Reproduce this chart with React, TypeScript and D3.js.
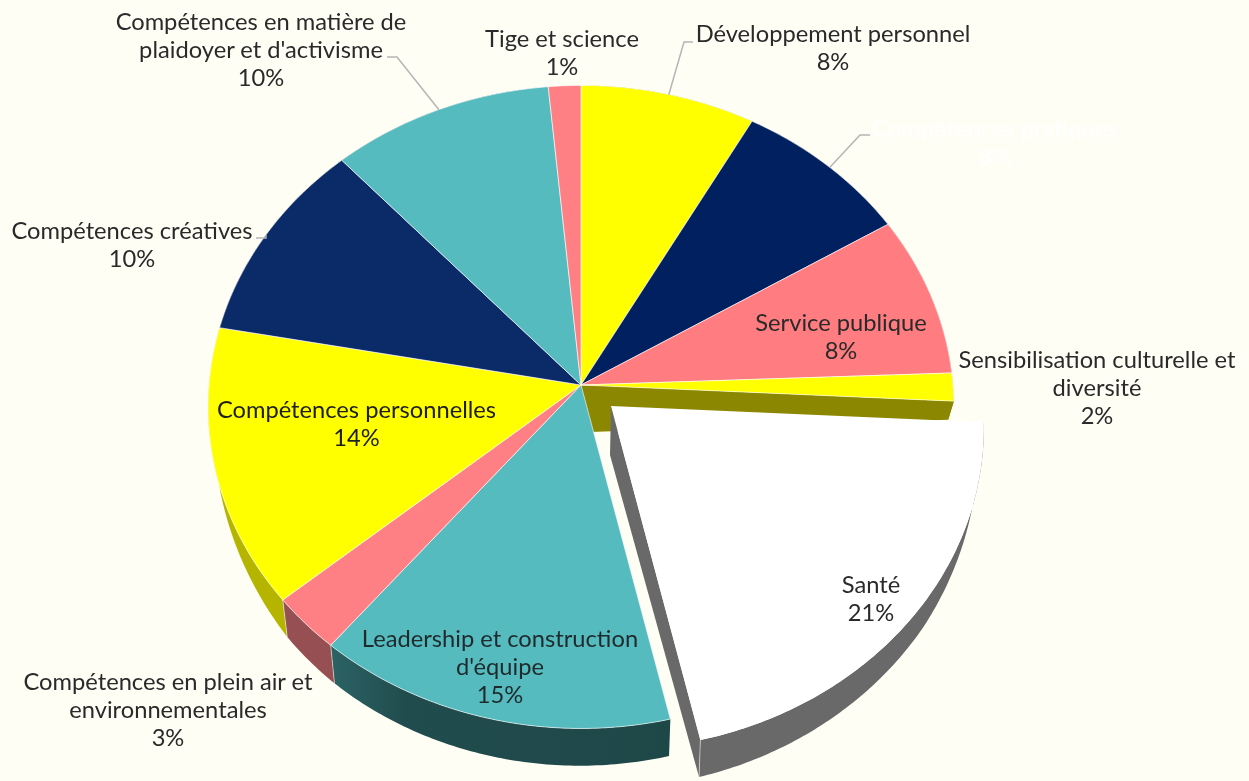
import React from "react";
import * as d3 from "d3";

const categories = [
  "Développement personnel",
  "Compétences pratiques",
  "Service publique",
  "Sensibilisation culturelle et diversité",
  "Santé",
  "Leadership et construction d'équipe",
  "Compétences en plein air et environnementales",
  "Compétences personnelles",
  "Compétences créatives",
  "Compétences en matière de plaidoyer et d'activisme",
  "Tige et science",
];
const values = [8.1, 8.2, 8.1, 1.4, 20.6, 14.6, 2.9, 14.0, 10.3, 10.3, 1.5];
const percentLabels = ["8%", "8%", "8%", "2%", "21%", "15%", "3%", "14%", "10%", "10%", "1%"];
const labelLines = [
  ["Développement personnel"],
  ["Compétences pratiques"],
  ["Service publique"],
  ["Sensibilisation culturelle et", "diversité"],
  ["Santé"],
  ["Leadership et construction", "d'équipe"],
  ["Compétences en plein air et", "environnementales"],
  ["Compétences personnelles"],
  ["Compétences créatives"],
  ["Compétences en matière de", "plaidoyer et d'activisme"],
  ["Tige et science"],
];
const topColors = ["#FFFF00", "#002060", "#FF7C80", "#FFFF00", "#FFFFFF", "#55BBBF", "#FF8084", "#FFFF00", "#0A2A68", "#55BBBF", "#FF8084"];
const wallColors = ["#8C8C00", "#001030", "#803E40", "#8C8700", "#696969", "url(#wallTeal)", "#964F52", "#B5B500", "#051534", "#2A5E60", "#803E40"];
const labelColors = ["#2A2A2A", "#FFFFFF", "#2A2A2A", "#2A2A2A", "#2A2A2A", "#1E2A2C", "#2A2A2A", "#1E1E1E", "#2A2A2A", "#2A2A2A", "#2A2A2A"];
// label layout: centre x, y of the first line's middle
const labelPos: [number, number][] = [
  [833, 34.5], [995, 130], [841, 323.5], [1097, 360.5], [871, 585.5], [500, 639.5], [168, 682.5], [356.5, 410.5], [132, 231.5], [261, 22.5], [562, 39.5],
];
// leader lines: slice index, elbow and end of line beside the label
const leaders: { i: number; frac: number; elbow: [number, number]; end: [number, number] }[] = [
  { i: 0, frac: 0.5, elbow: [684, 42], end: [693, 42] },
  { i: 1, frac: 0.52, elbow: [860, 135], end: [870, 135] },
  { i: 8, frac: 0.5, elbow: [266, 238], end: [256, 238] },
  { i: 9, frac: 0.5, elbow: [397, 57], end: [387, 57] },
];

const W = 1249;
const H = 781;
const CX = 581;
const CY = 385;
const RX = 372;
const RY = 320;
const PERSP = 0.0683;
const EXPLODED = 4;
const EXPLODE: [number, number] = [30, 21];
const BOTTOM_CENTER: [number, number] = [590, 432];
const EXPLODED_BOTTOM_CENTER: [number, number] = [580, 434];
const SHRINK = 0.985;

const DEG = Math.PI / 180;
const depth = d3.scaleLinear()
  .domain([0, 90, 100, 125, 167, 220, 230, 255, 280, 360].map((d) => d * DEG))
  .range([0, 18, 20, 30, 37, 38, 37, 24, 0, 0]);

const project = (a: number): [number, number] => {
  const u = Math.sin(a);
  const v = -Math.cos(a);
  const w = 1 - PERSP * v;
  return [CX + (RX * u) / w, CY + (RY * v) / w];
};
const lower = (a: number): [number, number] => {
  const [x, y] = project(a);
  return [CX + SHRINK * (x - CX), y + depth(a)];
};
const arcs = d3.pie<number>().sort(null).value((d) => d)(values);
const linePath = d3.line();
const sample = (a0: number, a1: number) => {
  const n = Math.max(2, Math.ceil(((a1 - a0) / DEG) * 1.5));
  return d3.range(n + 1).map((k) => a0 + ((a1 - a0) * k) / n);
};

export default function App() {
  const slices = arcs.map((arc, i) => {
    const [ox, oy] = i === EXPLODED ? EXPLODE : [0, 0];
    const a0 = arc.startAngle;
    const a1 = arc.endAngle;
    const shift = (p: [number, number]): [number, number] => [p[0] + ox, p[1] + oy];
    const rim = sample(a0, a1).map((a) => shift(project(a)));
    const low = sample(a0, a1).map((a) => shift(lower(a)));
    const center = shift([CX, CY]);
    const lowCenter = shift(i === EXPLODED ? EXPLODED_BOTTOM_CENTER : BOTTOM_CENTER);
    const last = rim.length - 1;
    return {
      i,
      top: linePath([center, ...rim]) + "Z",
      wall: linePath([...rim, ...low.slice().reverse()]) + "Z",
      endWall: linePath([center, rim[last], low[last], lowCenter]) + "Z",
      seam: linePath([rim[last], low[last]]) as string,
    };
  });
  const hole = EXPLODED;
  return (
    <svg width={W} height={H} style={{ position: "absolute", left: 0, top: 0, background: "#FFFEF5", filter: "blur(0.5px)" }}>
      <defs>
        <linearGradient id="wallTeal" gradientUnits="userSpaceOnUse" x1={331} x2={670} y1={0} y2={0}>
          <stop offset="0" stopColor="#2C6365" />
          <stop offset="0.22" stopColor="#214C4D" />
          <stop offset="1" stopColor="#1E4748" />
        </linearGradient>
      </defs>
      <rect width={W} height={H} fill="#FFFEF5" />
      {slices.filter((s) => s.i !== hole).map((s) => (
        <path key={s.i} d={s.wall} fill={wallColors[s.i]} />
      ))}
      <path d={slices[hole - 1].endWall} fill={wallColors[hole - 1]} />
      {slices.filter((s) => s.i === 5 || s.i === 6).map((s) => (
        <path key={s.i} d={s.seam} stroke="#FFFFFF" strokeOpacity={0.5} strokeWidth={1} fill="none" />
      ))}
      {slices.filter((s) => s.i !== hole).map((s) => (
        <path key={s.i} d={s.top} fill={topColors[s.i]} stroke="#FFFFFF" strokeOpacity={0.6} strokeWidth={1} strokeLinejoin="round" />
      ))}
      <path d={slices[hole].wall} fill={wallColors[hole]} />
      <path d={slices[hole].endWall} fill={wallColors[hole]} />
      <path d={slices[hole].seam} stroke="#FFFFFF" strokeOpacity={0.5} strokeWidth={1} fill="none" />
      <path d={slices[hole].top} fill={topColors[hole]} />
      {leaders.map((l) => {
        const arc = arcs[l.i];
        const a = arc.startAngle + (arc.endAngle - arc.startAngle) * l.frac;
        return (
          <path key={l.i} d={linePath([project(a), l.elbow, l.end]) as string} fill="none" stroke="#B5B5B5" strokeWidth={1.5} />
        );
      })}
      {categories.map((c, i) => (
        <text key={c} textAnchor="middle" fontFamily="Lato" fontSize={23.7} fill={labelColors[i]}>
          {[...labelLines[i], percentLabels[i]].map((t, k) => (
            <tspan key={k} x={labelPos[i][0]} y={labelPos[i][1] + 7.2 + k * 28.2}>{t}</tspan>
          ))}
        </text>
      ))}
    </svg>
  );
}
